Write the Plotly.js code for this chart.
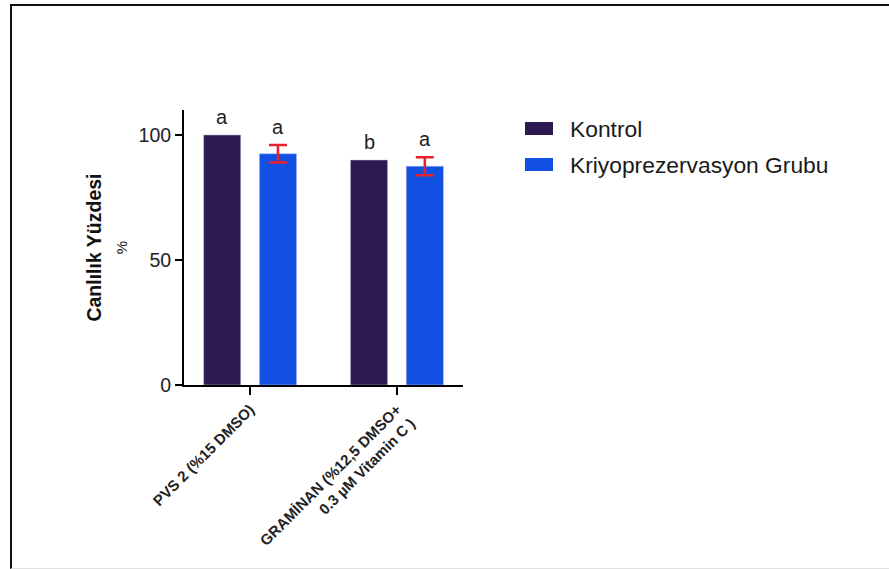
<!DOCTYPE html>
<html>
<head>
<meta charset="utf-8">
<script src="https://cdn.plot.ly/plotly-3.0.1.min.js"></script>
<style>
  html, body { margin: 0; padding: 0; background: #fff; }
  #wrap { position: relative; width: 889px; height: 569px; overflow: hidden; }
  #chart { position: absolute; left: 0; top: 0; width: 889px; height: 569px; }
  #frame {
    position: absolute; left: 10px; top: 4px; right: -4px; bottom: 0;
    border-top: 2px solid #111; border-left: 2px solid #111;
    border-bottom: 1px solid #e2e2e2;
    pointer-events: none;
  }
</style>
</head>
<body>
<div id="wrap">
  <div id="chart"></div>
  <div id="frame"></div>
</div>
<script>
// Treatment groups on the x axis
const categories = ['PVS 2 (%15 DMSO)', 'GRAMİNAN (%12,5 DMSO+<br>0.3 µM Vitamin C )'];

// Series
const seriesNames = ['Kontrol', 'Kriyoprezervasyon Grubu'];
const kontrolValues = [100, 90];
const kriyoValues = [92.5, 87.5];
const kriyoErrors = [3.5, 3.6];

// Significance letters above each bar
const kontrolLetters = ['a', 'b'];
const kriyoLetters = ['a', 'a'];

// Y axis ticks
const yTickValues = [0, 50, 100];
const yTickLabels = ['0', '50', '100'];

// ---- styling / geometry ----
const W = 889, H = 569;
const M = { l: 184, r: 426, t: 110, b: 184 };
const plotW = W - M.l - M.r, plotH = H - M.t - M.b;
const px2x = px => (px - M.l) / plotW;
const px2y = py => (H - M.b - py) / plotH;

const colors = ['#2d1a50', '#1250e4'];
const FONT = '"Liberation Sans", Arial, sans-serif';
const BARGAP = 0.24, BARGROUPGAP = 0.335;
const slot = (1 - BARGAP) / 2;
const offsets = [-slot / 2, slot / 2];

const traces = [
  {
    type: 'bar', name: seriesNames[0], x: categories, y: kontrolValues,
    marker: { color: colors[0], line: { color: 'rgba(200,190,230,0.5)', width: 1 } },
    showlegend: false, hoverinfo: 'x+y'
  },
  {
    type: 'bar', name: seriesNames[1], x: categories, y: kriyoValues,
    marker: { color: colors[1], line: { color: 'rgba(170,190,240,0.5)', width: 1 } },
    error_y: { type: 'data', array: kriyoErrors, visible: true, color: '#e8202a', thickness: 2.5, width: 9 },
    showlegend: false, hoverinfo: 'x+y'
  }
];

// letters sit just above each bar (or its error bar)
const annotations = [];
const letterFont = { family: FONT, size: 20, color: '#222' };
categories.forEach((c, i) => {
  annotations.push({
    x: i + offsets[0], y: kontrolValues[i], xref: 'x', yref: 'y',
    text: kontrolLetters[i], showarrow: false, yanchor: 'bottom', yshift: 5, font: letterFont
  });
  annotations.push({
    x: i + offsets[1], y: kriyoValues[i] + kriyoErrors[i], xref: 'x', yref: 'y',
    text: kriyoLetters[i], showarrow: false, yanchor: 'bottom', yshift: 5, font: letterFont
  });
});

// legend: wide swatches with labels
const shapes = [];
const legendRows = [128.5, 164.5];
seriesNames.forEach((name, k) => {
  const cy = legendRows[k];
  shapes.push({
    type: 'rect', xref: 'paper', yref: 'paper',
    x0: px2x(525), x1: px2x(553), y0: px2y(cy + 6.5), y1: px2y(cy - 6.5),
    fillcolor: colors[k], line: { width: 0 }
  });
  annotations.push({
    xref: 'paper', yref: 'paper', x: px2x(568), y: px2y(cy),
    xanchor: 'left', yanchor: 'middle', showarrow: false,
    text: name, font: { family: FONT, size: 22.8, color: '#1a1a1a' }
  });
});

const layout = {
  width: W, height: H,
  margin: M,
  paper_bgcolor: '#fff', plot_bgcolor: '#fff',
  barmode: 'group', bargap: BARGAP, bargroupgap: BARGROUPGAP,
  showlegend: false,
  font: { family: FONT, color: '#222' },
  xaxis: {
    type: 'category', range: [-0.45, 1.45],
    showline: true, linecolor: '#000', linewidth: 2,
    ticks: 'outside', ticklen: 8, tickwidth: 2, tickcolor: '#000',
    tickangle: -45, showgrid: false, zeroline: false,
    tickfont: { family: FONT, size: 15, color: '#222', weight: 'bold' }
  },
  yaxis: {
    range: [0, 110], tickvals: yTickValues, ticktext: yTickLabels,
    showline: true, linecolor: '#000', linewidth: 2,
    ticks: 'outside', ticklen: 7, tickwidth: 2, tickcolor: '#000',
    showgrid: false, zeroline: false,
    tickfont: { family: FONT, size: 19.5, color: '#222' },
    title: {
      text: '<b>Canlılık Yüzdesi</b><br><span style="font-size:15px">%</span>',
      font: { family: FONT, size: 19.5, color: '#111' },
      standoff: 6
    }
  },
  shapes: shapes,
  annotations: annotations
};

Plotly.newPlot('chart', traces, layout, { staticPlot: true, displayModeBar: false });
</script>
</body>
</html>
